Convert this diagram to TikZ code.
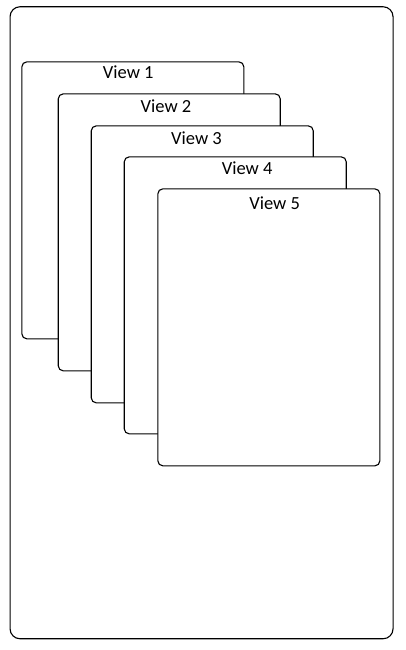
\documentclass[tikz,border=0pt]{standalone}
\usepackage{fontspec}
\setmainfont{Carlito}
\begin{document}
\begin{tikzpicture}[x=1pt,y=1pt,
  outerbox/.style={draw=black, line width=1.1pt, rounded corners=10pt, fill=white, inner sep=0pt, anchor=north west},
  panel/.style={draw=black, line width=1.1pt, rounded corners=5pt, fill=white, inner sep=0pt, anchor=north west, minimum width=222pt, minimum height=277pt},
  lbl/.style={inner sep=0pt, font=\fontsize{18.5}{20}\selectfont}]
\useasboundingbox (0,0) rectangle (405,-650);
\node[outerbox, minimum width=383pt, minimum height=632pt] (outer) at (9.5,-6.2) {};
\node[panel] (v1) at (21.3,-61.3) {};
\node[panel] (v2) at (57.7,-93.3) {};
\node[panel] (v3) at (90.7,-125.3) {};
\node[panel] (v4) at (123.7,-156.3) {};
\node[panel] (v5) at (157.3,-188.3) {};
\node[lbl] (l1) at (128.3,-72.5) {View 1};
\node[lbl] (l2) at (166,-106.3) {View 2};
\node[lbl] (l3) at (196.5,-138) {View 3};
\node[lbl] (l4) at (247.2,-167.8) {View 4};
\node[lbl] (l5) at (274.7,-203.3) {View 5};
\end{tikzpicture}
\end{document}
